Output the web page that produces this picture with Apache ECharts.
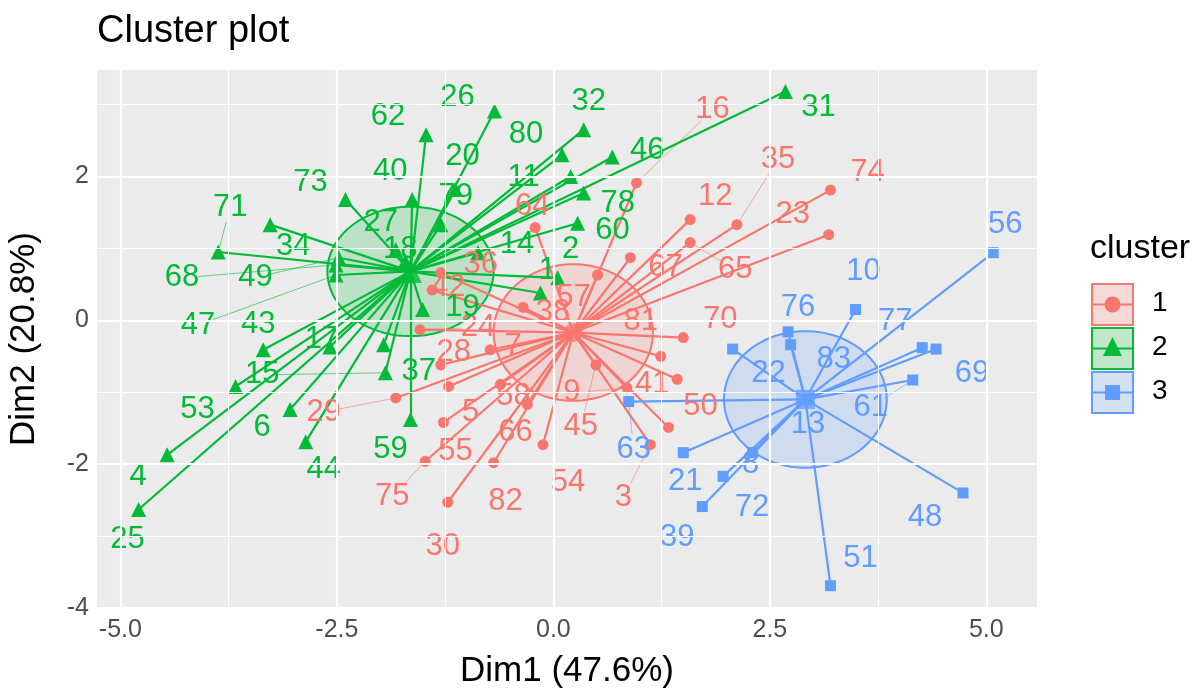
<!DOCTYPE html>
<html><head><meta charset="utf-8">
<script src="https://cdn.jsdelivr.net/npm/echarts@6/dist/echarts.min.js"></script>
<style>html,body{margin:0;padding:0;background:#fff}#c{width:1204px;height:696px}</style>
</head><body><div id="c"></div>
<script>
// ---------- DATA ----------
const clusterNames = ['1', '2', '3'];

// cluster 1 (red)
const c1Ids  = ['16','35','74','23','12','65','67','64','57','38','81','70','41','50','9','45','3','54','66','82','30','75','55','5','28','29','42','36','24','58','7'];
const c1Dim1 = [0.96,2.12,3.20,3.18,1.58,1.58,0.89,-0.21,0.51,-0.35,1.24,1.50,1.43,1.33,0.85,0.49,1.12,-0.12,-0.30,-0.69,-1.22,-1.48,-1.27,-1.21,-1.30,-1.82,-1.40,-1.30,-1.54,-0.61,-0.73];
const c1Dim2 = [1.91,1.33,1.81,1.19,1.40,1.08,0.87,1.29,0.63,0.18,-0.50,-0.24,-0.82,-1.49,-0.94,-0.62,-1.73,-1.73,-1.17,-1.98,-2.53,-1.96,-1.42,-0.92,-0.62,-1.08,0.42,0.66,-0.13,-0.89,-0.41];

// cluster 2 (green)
const c2Ids  = ['31','32','26','62','80','11','46','78','60','73','34','71','68','49','47','43','17','15','53','6','44','4','25','37','59','19','1','2','40','79','20','27','18','14'];
const c2Dim1 = [2.68,0.35,-0.68,-1.47,0.10,0.20,0.68,0.35,0.28,-2.40,-3.27,-3.87,-2.51,-2.48,-2.51,-3.35,-2.58,-1.94,-3.67,-3.04,-2.86,-4.46,-4.79,-1.96,-1.65,-1.51,-0.15,0.05,-1.63,-1.30,-1.13,-1.82,-1.71,-0.87];
const c2Dim2 = [3.18,2.65,2.91,2.58,2.30,2.00,2.27,1.77,1.35,1.68,1.33,0.95,0.77,0.87,0.63,-0.41,-0.37,-0.73,-0.92,-1.24,-1.69,-1.87,-2.63,-0.34,-1.38,0.15,0.38,0.59,1.68,1.33,1.82,0.98,0.82,0.94];

// cluster 3 (blue)
const c3Ids  = ['56','10','76','83','77','69','61','22','13','63','21','8','72','39','48','51'];
const c3Dim1 = [5.08,3.49,2.71,2.74,4.26,4.42,4.15,2.07,2.94,0.87,1.50,2.30,1.96,1.72,4.73,3.20];
const c3Dim2 = [0.94,0.15,-0.16,-0.34,-0.38,-0.40,-0.83,-0.40,-1.10,-1.13,-1.84,-1.84,-2.17,-2.59,-2.40,-3.69];

// cluster centres and concentration ellipse radii (Dim units)
const centerDim1 = [0.23, -1.65, 2.91];
const centerDim2 = [-0.17, 0.68, -1.10];
const ellipseRx  = [0.92, 0.96, 0.94];
const ellipseRy  = [0.95, 0.90, 0.95];

// axis ticks
const xTicks = [-5, -2.5, 0, 2.5, 5];
const yTicks = [-4, -2, 0, 2];
const xMinor = [-3.75, -1.25, 1.25, 3.75];
const yMinor = [-3, -1, 1, 3];

// ---------- LAYOUT (label offsets in px, repelled text) ----------
const labelOffset = {
  '1:16':[76,-73],'1:35':[41,-65],'1:74':[37,-18],'1:23':[-36,-20],'1:12':[25,-23],'1:65':[45,27],'1:67':[35,10],'1:64':[-3,-21],
  '1:57':[-24,22],'1:38':[30,5],'1:81':[-20,-35],'1:70':[37,-18],'1:41':[-25,5],'1:50':[32,-21],'1:9':[-55,5],'1:45':[-15,62],
  '1:3':[-27,53],'1:54':[25,38],'1:66':[-12,28],'1:82':[12,39],'1:30':[-5,44],'1:75':[-33,35],'1:55':[12,29],'1:5':[22,26],
  '1:28':[13,-12],'1:29':[-72,14],'1:42':[16,-3],'1:36':[40,-8],'1:24':[58,-2],'1:58':[13,12],'1:7':[23,-3],
  '2:31':[33,16],'2:32':[5,-28],'2:26':[-37,-14],'2:62':[-38,-18],'2:80':[-36,-20],'2:11':[-47,1],'2:46':[35,-7],'2:78':[34,10],
  '2:60':[35,7],'2:73':[-35,-17],'2:34':[23,22],'2:71':[12,-45],'2:68':[-154,13],'2:49':[-83,20],'2:47':[-138,50],'2:43':[-5,-25],
  '2:17':[-8,-7],'2:15':[-123,2],'2:53':[-38,23],'2:6':[-28,18],'2:44':[18,28],'2:4':[-29,22],'2:25':[-11,30],'2:37':[35,27],
  '2:59':[-20,30],'2:19':[40,-2],'2:1':[7,-23],'2:2':[13,-28],'2:40':[-22,-28],'2:79':[15,-28],'2:20':[7,-33],'2:27':[-15,-27],
  '2:18':[-5,-12],'2:14':[39,-8],
  '3:56':[12,-28],'3:10':[8,-38],'3:76':[10,-24],'3:83':[43,15],'3:77':[-27,-26],'3:69':[36,24],'3:61':[-42,27],'3:22':[36,24],
  '3:13':[0,25],'3:63':[5,48],'3:21':[2,29],'3:8':[-2,12],'3:72':[29,31],'3:39':[-25,31],'3:48':[-38,25],'3:51':[30,-27]
};

// ---------- STYLE ----------
const FONT = 'Liberation Sans, Arial, Helvetica, sans-serif';
const colors = ['#F8766D', '#00BA38', '#619CFF'];
const fills  = ['rgba(248,118,109,0.2)', 'rgba(0,186,56,0.2)', 'rgba(97,156,255,0.2)'];
const symbols = ['circle', 'triangle', 'rect'];
const symSizes = [11, 15, 11];
const ids  = [c1Ids, c2Ids, c3Ids];
const d1   = [c1Dim1, c2Dim1, c3Dim1];
const d2   = [c1Dim2, c2Dim2, c3Dim2];
const offs = ids.map((arr, k) => arr.map(id => labelOffset[clusterNames[k] + ':' + id] || [0, 0]));

const chart = echarts.init(document.getElementById('c'), null, { renderer: 'canvas' });

const series = [];

// grid lines (ggplot theme_grey)
const gl = [];
xTicks.forEach(v => gl.push({ xAxis: v, lineStyle: { color: '#fff', width: 2.2, type: 'solid' } }));
xMinor.forEach(v => gl.push({ xAxis: v, lineStyle: { color: '#fff', width: 1, type: 'solid' } }));
yTicks.forEach(v => gl.push({ yAxis: v, lineStyle: { color: '#fff', width: 2.2, type: 'solid' } }));
yMinor.forEach(v => gl.push({ yAxis: v, lineStyle: { color: '#fff', width: 1, type: 'solid' } }));
series.push({
  type: 'line', data: [], z: 1, silent: true,
  markLine: { silent: true, symbol: 'none', label: { show: false }, emphasis: { disabled: true }, data: gl, animation: false }
});

// ellipses
series.push({
  type: 'custom', coordinateSystem: 'cartesian2d', z: 2, silent: true,
  data: clusterNames.map((c, k) => [centerDim1[k], centerDim2[k], ellipseRx[k], ellipseRy[k], k]),
  encode: { x: 0, y: 1 },
  renderItem: (params, api) => {
    const cx = api.value(0), cy = api.value(1), rx = api.value(2), ry = api.value(3), k = api.value(4);
    const pts = [];
    for (let t = 0; t < 90; t++) {
      const a = t / 90 * 2 * Math.PI;
      pts.push(api.coord([cx + rx * Math.cos(a), cy + ry * Math.sin(a)]));
    }
    return { type: 'polygon', shape: { points: pts }, style: { fill: fills[k], stroke: colors[k], lineWidth: 2 } };
  }
});

// star lines, label segments, points
clusterNames.forEach((c, k) => {
  series.push({
    type: 'lines', coordinateSystem: 'cartesian2d', z: 3, silent: true, polyline: false,
    lineStyle: { color: colors[k], width: 2.2, opacity: 1, curveness: 0 },
    data: ids[k].map((id, j) => ({ coords: [[centerDim1[k], centerDim2[k]], [d1[k][j], d2[k][j]]] }))
  });
  series.push({
    type: 'custom', coordinateSystem: 'cartesian2d', z: 3, silent: true,
    data: ids[k].map((id, j) => [d1[k][j], d2[k][j], offs[k][j][0], offs[k][j][1]]),
    encode: { x: 0, y: 1 },
    renderItem: (params, api) => {
      const p = api.coord([api.value(0), api.value(1)]);
      const dx = api.value(2), dy = api.value(3);
      const len = Math.hypot(dx, dy);
      if (len < 46) return null;
      const f = (len - 16) / len;
      return { type: 'line', shape: { x1: p[0], y1: p[1], x2: p[0] + dx * f, y2: p[1] + dy * f },
        style: { stroke: colors[k], lineWidth: 1, opacity: 0.6 } };
    }
  });
  series.push({
    type: 'scatter', name: c, z: 4, symbol: symbols[k], symbolSize: symSizes[k],
    itemStyle: { color: colors[k], opacity: 1 },
    label: { show: true, position: 'inside', formatter: p => p.name, color: colors[k], fontSize: 31, fontFamily: FONT },
    labelLayout: p => ({ dx: offs[k][p.dataIndex][0], dy: offs[k][p.dataIndex][1], hideOverlap: false }),
    data: ids[k].map((id, j) => ({ name: id, value: [d1[k][j], d2[k][j]] }))
  });
  series.push({
    type: 'scatter', z: 5, symbol: symbols[k], symbolSize: symSizes[k] + 8, silent: true,
    itemStyle: { color: colors[k] },
    data: [[centerDim1[k], centerDim2[k]]]
  });
});

// legend (ggplot style keys)
const legendGraphic = [{ type: 'text', left: 1090, top: 232, style: { text: 'cluster', fontSize: 34, fontFamily: FONT, fill: '#000' } }];
clusterNames.forEach((c, k) => {
  const top = 283 + k * 44;
  legendGraphic.push({ type: 'rect', shape: { x: 1091, y: top, width: 43, height: 43 }, style: { fill: '#F2F2F2' } });
  legendGraphic.push({ type: 'rect', shape: { x: 1092, y: top + 1, width: 41, height: 41 }, style: { fill: fills[k], stroke: colors[k], lineWidth: 2 } });
  legendGraphic.push({ type: 'line', shape: { x1: 1093, y1: top + 21.5, x2: 1132, y2: top + 21.5 }, style: { stroke: colors[k], lineWidth: 2 } });
  if (k === 0) legendGraphic.push({ type: 'circle', shape: { cx: 1112.5, cy: top + 21.5, r: 8 }, style: { fill: colors[k] } });
  if (k === 1) legendGraphic.push({ type: 'polygon', shape: { points: [[1112.5, top + 10], [1103, top + 29], [1122, top + 29]] }, style: { fill: colors[k] } });
  if (k === 2) legendGraphic.push({ type: 'rect', shape: { x: 1105, y: top + 14, width: 15, height: 15 }, style: { fill: colors[k] } });
  legendGraphic.push({ type: 'text', left: 1152, top: top + 6, style: { text: c, fontSize: 28, fontFamily: FONT, fill: '#000' } });
});

chart.setOption({
  animation: false,
  backgroundColor: '#fff',
  title: { text: 'Cluster plot', left: 92, top: 8, textStyle: { fontSize: 38, fontWeight: 'normal', color: '#000', fontFamily: FONT } },
  grid: { left: 97, top: 70, right: 167, bottom: 88, show: true, backgroundColor: '#EBEBEB', borderWidth: 0, containLabel: false, outerBoundsMode: 'none' },
  xAxis: {
    type: 'value', min: -5.27, max: 5.585,
    axisLine: { show: false }, splitLine: { show: false },
    axisTick: { show: true, customValues: xTicks, length: 6, lineStyle: { color: '#333', width: 2 } },
    axisLabel: { show: true, customValues: xTicks, formatter: v => Number(v).toFixed(1), color: '#4D4D4D', fontSize: 25, margin: 10, fontFamily: FONT },
    name: 'Dim1 (47.6%)', nameLocation: 'middle', nameGap: 46, nameTextStyle: { fontSize: 35, color: '#000', fontFamily: FONT }
  },
  yAxis: {
    type: 'value', min: -4, max: 3.48,
    axisLine: { show: false }, splitLine: { show: false },
    axisTick: { show: true, customValues: yTicks, length: 6, lineStyle: { color: '#333', width: 2 } },
    axisLabel: { show: true, customValues: yTicks, formatter: v => String(v), color: '#4D4D4D', fontSize: 25, margin: 8, fontFamily: FONT },
    name: 'Dim2 (20.8%)', nameLocation: 'middle', nameGap: 55, nameTextStyle: { fontSize: 35, color: '#000', fontFamily: FONT }
  },
  graphic: legendGraphic,
  series: series
});
</script></body></html>
